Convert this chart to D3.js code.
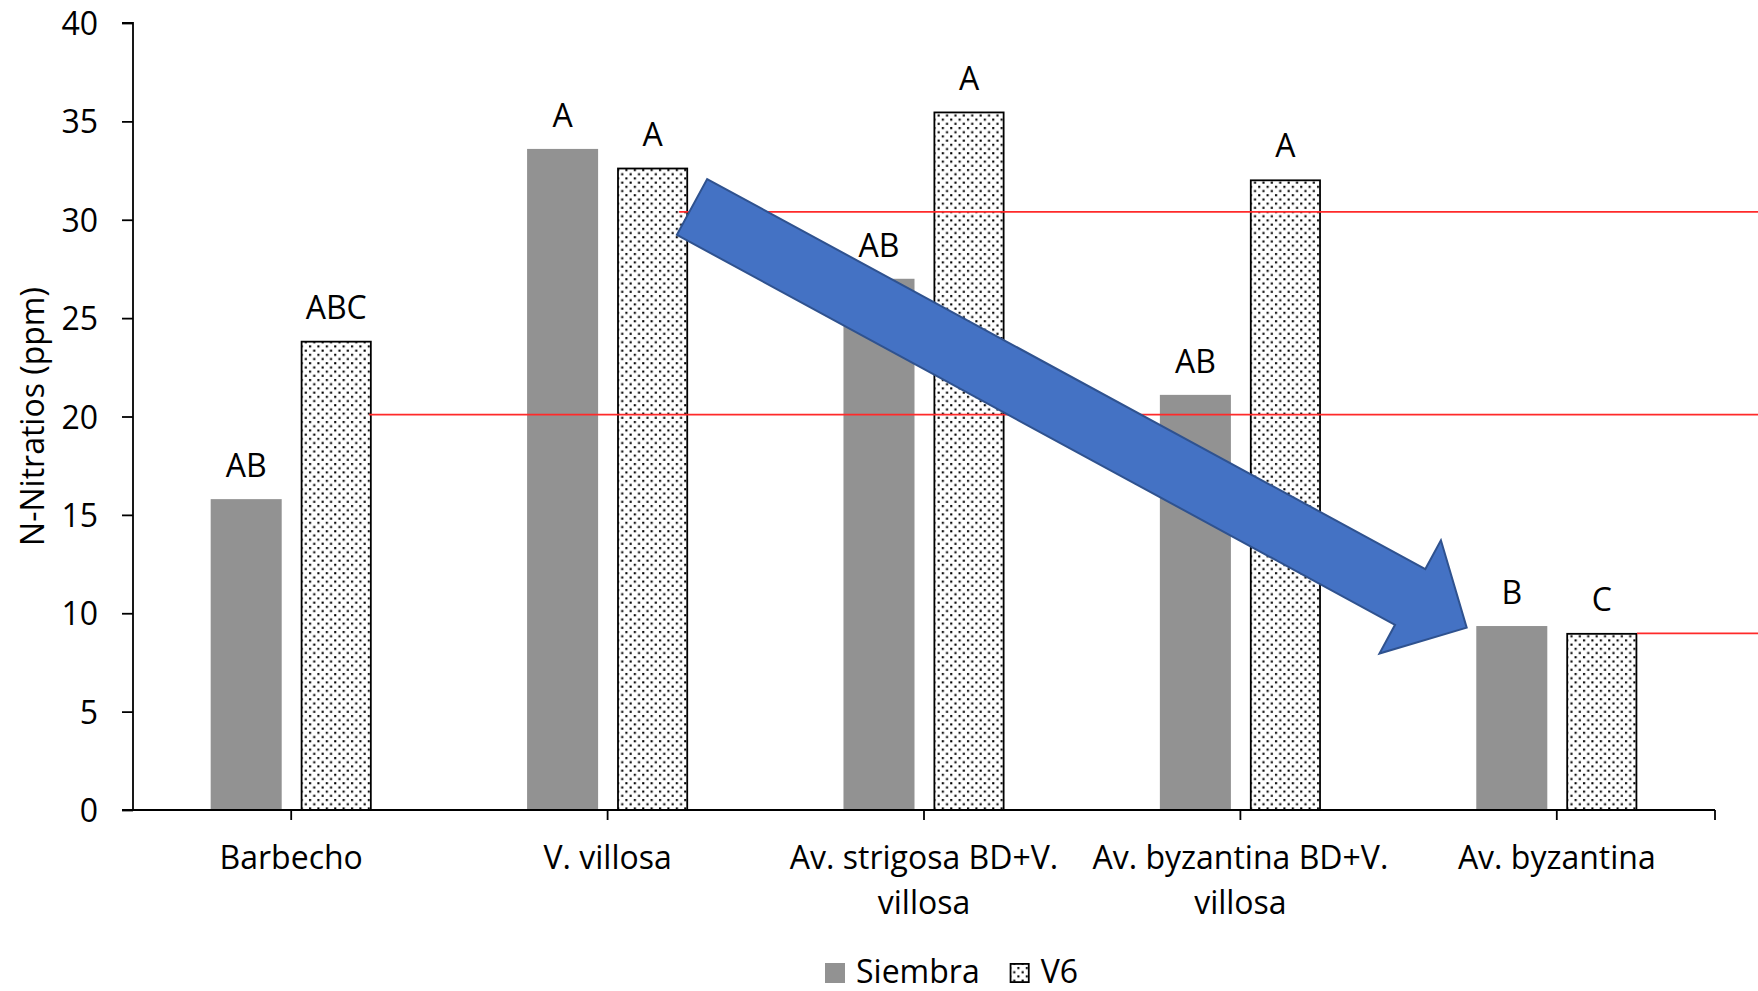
<!DOCTYPE html>
<html>
<head>
<meta charset="utf-8">
<script src="https://cdn.jsdelivr.net/npm/d3@7"></script>
<style>
  html, body { margin: 0; padding: 0; background: #fff; }
  svg { display: block; }
  text { font-family: "Open Sans", "Noto Sans", sans-serif; fill: #000; }
</style>
</head>
<body>
<svg id="chart" width="1758" height="991"></svg>
<script>
// ---- data ----
const categories = ["Barbecho", "V. villosa", "Av. strigosa BD+V. villosa", "Av. byzantina BD+V. villosa", "Av. byzantina"];
const categoryLines = [["Barbecho"], ["V. villosa"], ["Av. strigosa BD+V.", "villosa"], ["Av. byzantina BD+V.", "villosa"], ["Av. byzantina"]];
const seriesNames = ["Siembra", "V6"];
const siembraValues = [15.8, 33.6, 27.0, 21.1, 9.35];
const v6Values = [23.85, 32.65, 35.5, 32.05, 9.0];
const siembraLetters = ["AB", "A", "AB", "AB", "B"];
const v6Letters = ["ABC", "A", "A", "A", "C"];
const yTicks = [0, 5, 10, 15, 20, 25, 30, 35, 40];
const yTitle = "N-Nitratios (ppm)";
// annotation lines: start position (fractional category index), value
const redLines = [
  { startPos: 1.726, value: 30.4 },
  { startPos: 0.7465, value: 20.1 },
  { startPos: 4.7536, value: 8.98 }
];
// block arrow: from tail (fractional category index, value) to tip
const arrowFrom = { pos: 1.7668, value: 30.65 };
const arrowTo = { pos: 4.2152, value: 9.27 };

// ---- layout ----
const W = 1758, H = 991;
const plotLeft = 133, plotRight = 1715, plotTop = 23, plotBottom = 810;
const fs = 32;

const svg = d3.select("#chart");
const defs = svg.append("defs");
const T = 8.4, D = 2.1;
const pat = defs.append("pattern").attr("id", "dots")
  .attr("width", T).attr("height", T).attr("patternUnits", "userSpaceOnUse");
pat.append("rect").attr("width", T).attr("height", T).attr("fill", "#fff");
pat.append("rect").attr("x", 1).attr("y", 1).attr("width", D).attr("height", D).attr("fill", "#000");
pat.append("rect").attr("x", 1 + T / 2).attr("y", 1 + T / 2).attr("width", D).attr("height", D).attr("fill", "#000");

const x = d3.scaleBand().domain(categories).range([plotLeft, plotRight]).padding(0);
const xPos = d3.scaleLinear().domain([0, categories.length]).range([plotLeft, plotRight]);
const y = d3.scaleLinear().domain([0, 40]).range([plotBottom, plotTop]);
const groupW = x.bandwidth() * 0.509;
const xs = d3.scaleBand().domain(seriesNames).range([-groupW / 2, groupW / 2]).paddingInner(0.211).paddingOuter(0);

const rows = categories.map((c, i) => ({ cat: c, vals: [
  { s: "Siembra", v: siembraValues[i], l: siembraLetters[i] },
  { s: "V6", v: v6Values[i], l: v6Letters[i] }
]}));

// bars
const g = svg.append("g");
const grp = g.selectAll("g.cat").data(rows).join("g")
  .attr("transform", d => `translate(${x(d.cat) + x.bandwidth() / 2},0)`);
grp.selectAll("rect").data(d => d.vals).join("rect")
  .attr("x", d => xs(d.s) + (d.s === "V6" ? 0.9 : 0))
  .attr("width", d => xs.bandwidth() - (d.s === "V6" ? 1.8 : 0))
  .attr("y", d => y(d.v) + (d.s === "V6" ? 0.9 : 0))
  .attr("height", d => y(0) - y(d.v) - (d.s === "V6" ? 0.9 : 0))
  .attr("fill", d => d.s === "V6" ? "url(#dots)" : "#929292")
  .attr("stroke", d => d.s === "V6" ? "#000" : "none")
  .attr("stroke-width", 1.8);
grp.selectAll("text").data(d => d.vals).join("text")
  .attr("x", d => xs(d.s) + xs.bandwidth() / 2)
  .attr("y", d => y(d.v) - 22)
  .attr("text-anchor", "middle")
  .attr("font-size", fs)
  .text(d => d.l);

// y axis
const yAxis = d3.axisLeft(y).tickValues(yTicks).tickSize(11).tickPadding(24).tickFormat(d3.format("d"));
const ya = svg.append("g").attr("transform", `translate(${plotLeft},0)`).call(yAxis);
ya.select(".domain").attr("stroke", "#000").attr("stroke-width", 1.8).attr("d", `M-11,${plotTop}H0V${plotBottom}`);
ya.selectAll(".tick line").attr("stroke", "#000").attr("stroke-width", 1.8);
ya.selectAll(".tick text").attr("font-size", fs).attr("font-family", "Open Sans").attr("dy", "0.36em");

// x axis
const xa = svg.append("g");
xa.append("line").attr("x1", plotLeft - 11).attr("x2", plotRight).attr("y1", plotBottom).attr("y2", plotBottom)
  .attr("stroke", "#000").attr("stroke-width", 1.8);
const xTickPos = categories.map(c => x(c) + x.bandwidth() / 2).concat([plotRight]);
xa.selectAll("line.t").data(xTickPos).join("line").attr("class", "t")
  .attr("x1", d => d).attr("x2", d => d).attr("y1", plotBottom).attr("y2", plotBottom + 10)
  .attr("stroke", "#000").attr("stroke-width", 1.8);
const xl = xa.selectAll("text.cl").data(categories).join("text").attr("class", "cl")
  .attr("x", d => x(d) + x.bandwidth() / 2)
  .attr("y", plotBottom + 59)
  .attr("text-anchor", "middle")
  .attr("font-size", fs);
xl.each(function(d, i) {
  const t = d3.select(this);
  categoryLines[i].forEach((ln, k) => {
    t.append("tspan").attr("x", x(d) + x.bandwidth() / 2).attr("dy", k === 0 ? 0 : 45).text(ln);
  });
});

// y title
svg.append("text")
  .attr("transform", `translate(${44},${(plotTop + plotBottom) / 2}) rotate(-90)`)
  .attr("text-anchor", "middle")
  .attr("font-size", fs)
  .text(yTitle);

// legend
const leg = svg.append("g");
const legItems = [{ s: "Siembra", fill: "#929292", stroke: "none" }, { s: "V6", fill: "url(#dots)", stroke: "#000" }];
let lx = 825;
legItems.forEach(it => {
  leg.append("rect").attr("x", lx + (it.stroke !== "none" ? 0.9 : 0)).attr("y", 963 + (it.stroke !== "none" ? 0.9 : 0))
    .attr("width", 20 - (it.stroke !== "none" ? 1.8 : 0)).attr("height", 20 - (it.stroke !== "none" ? 1.8 : 0))
    .attr("fill", it.fill).attr("stroke", it.stroke).attr("stroke-width", 1.8);
  const t = leg.append("text").attr("x", lx + 31).attr("y", 983).attr("font-size", fs).text(it.s);
  lx = lx + 31 + t.node().getComputedTextLength() + 30;
});

// red annotation lines
svg.append("g").selectAll("line").data(redLines).join("line")
  .attr("x1", d => xPos(d.startPos)).attr("x2", W)
  .attr("y1", d => y(d.value)).attr("y2", d => y(d.value))
  .attr("stroke", "#ff2a2a").attr("stroke-width", 1.7);

// block arrow
const ax0 = xPos(arrowFrom.pos), ay0 = y(arrowFrom.value);
const ax1 = xPos(arrowTo.pos), ay1 = y(arrowTo.value);
const ang = Math.atan2(ay1 - ay0, ax1 - ax0);
const ux = Math.cos(ang), uy = Math.sin(ang), px = -uy, py = ux;
const shaftHalf = 31.75, headHalf = 64.4, headLen = 64.3;
const bx = ax1 - headLen * ux, by = ay1 - headLen * uy;
const pts = [
  [ax0 - shaftHalf * px, ay0 - shaftHalf * py],
  [bx - shaftHalf * px, by - shaftHalf * py],
  [bx - headHalf * px, by - headHalf * py],
  [ax1, ay1],
  [bx + headHalf * px, by + headHalf * py],
  [bx + shaftHalf * px, by + shaftHalf * py],
  [ax0 + shaftHalf * px, ay0 + shaftHalf * py]
];
svg.append("path")
  .attr("d", d3.line()(pts) + "Z")
  .attr("fill", "#4472C4").attr("stroke", "#2F528F").attr("stroke-width", 2).attr("stroke-linejoin", "miter");
</script>
</body>
</html>
